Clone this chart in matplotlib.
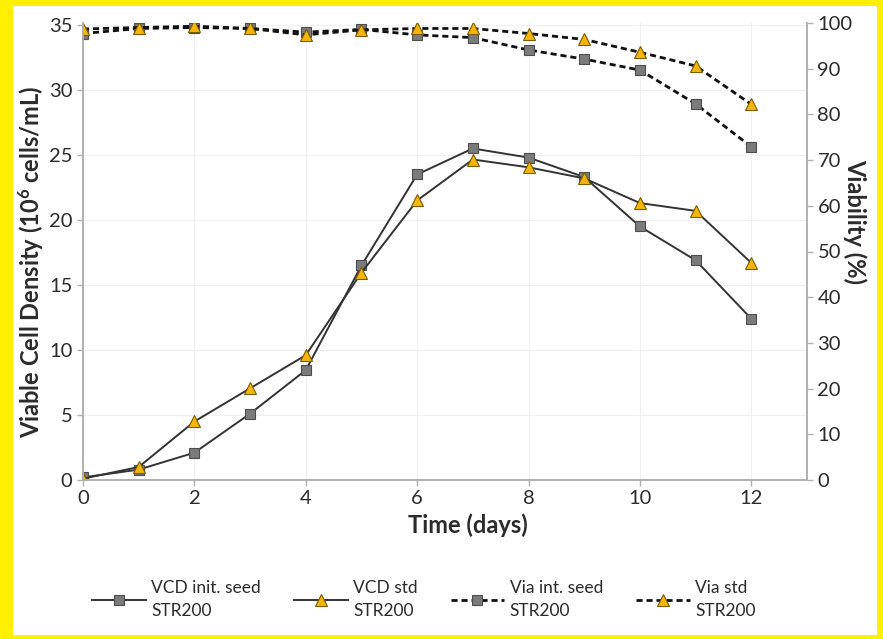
import matplotlib
matplotlib.use("Agg")
import matplotlib.pyplot as plt
from matplotlib.patches import Rectangle

# ---------------------------------------------------------------------
# Data
# ---------------------------------------------------------------------
days = [0, 1, 2, 3, 4, 5, 6, 7, 8, 9, 10, 11, 12]

vcd_init_seed = [0.2, 0.8, 2.1, 5.1, 8.45, 16.5, 23.5, 25.5, 24.8, 23.3, 19.5, 16.9, 12.4]
vcd_std = [0.1, 1.0, 4.5, 7.05, 9.6, 15.95, 21.5, 24.65, 24.05, 23.2, 21.3, 20.7, 16.7]

via_init_seed = [97.7, 98.8, 99.0, 98.8, 98.0, 98.6, 97.4, 96.8, 94.1, 92.1, 89.7, 82.3, 72.9]
via_std = [98.7, 99.0, 99.3, 98.8, 97.4, 98.5, 98.8, 98.8, 97.7, 96.4, 93.6, 90.6, 82.2]

labels = ["VCD init. seed\nSTR200", "VCD std\nSTR200",
          "Via int. seed\nSTR200", "Via std\nSTR200"]

# ---------------------------------------------------------------------
# Style
# ---------------------------------------------------------------------
plt.rcParams["font.family"] = ["Lato", "DejaVu Sans"]
plt.rcParams["mathtext.default"] = "regular"

TEXT = "#2b2b2b"
GREY_SQ = "#7b7b7b"
GOLD = "#F5B50A"
AXIS = "#b0b0b0"

fig = plt.figure(figsize=(8.83, 6.39), dpi=100)
fig.patch.set_facecolor("#FFEF00")
fig.patches.append(Rectangle((13 / 883, 4 / 639), (877 - 13) / 883, (633 - 4) / 639,
                             transform=fig.transFigure, facecolor="white",
                             edgecolor="none", zorder=-10))

ax = fig.add_axes([83 / 883, 1 - 480 / 639, (807 - 83) / 883, (480 - 23) / 639])
ax2 = ax.twinx()

sq = dict(marker="s", markersize=7.5, markerfacecolor=GREY_SQ,
          markeredgecolor="#4d4d4d", markeredgewidth=0.8)
tri = dict(marker="^", markersize=8, markerfacecolor=GOLD,
           markeredgecolor="#7a5c00", markeredgewidth=0.8)

l1, = ax.plot(days, vcd_init_seed, color="#333333", lw=1.4, **sq, label=labels[0])
l2, = ax.plot(days, vcd_std, color="#333333", lw=1.4, **tri, label=labels[1])
l3, = ax2.plot(days, via_init_seed, color="#111111", lw=2, linestyle=(0, (2.2, 1.4)),
               **sq, label=labels[2])
l4, = ax2.plot(days, via_std, color="#111111", lw=2, linestyle=(0, (2.2, 1.4)),
               **tri, label=labels[3])

ax.set_xlim(0, 13)
ax.set_ylim(0, 35.15)
ax2.set_ylim(0, 100)
ax.set_xticks([0, 2, 4, 6, 8, 10, 12])
ax.set_yticks([0, 5, 10, 15, 20, 25, 30, 35])
ax2.set_yticks(range(0, 101, 10))

ax.grid(True, color="#f0f0f0", lw=0.8)
ax.set_axisbelow(True)

for a in (ax, ax2):
    a.spines["top"].set_visible(False)
    for s in ("left", "right", "bottom"):
        a.spines[s].set_color(AXIS)
        a.spines[s].set_linewidth(1.2)
    a.tick_params(colors=AXIS, labelcolor=TEXT, labelsize=14.5, length=4, width=1)

ax.set_xlabel("Time (days)", fontsize=17, fontweight="bold", color=TEXT, va="center")
ax.xaxis.set_label_coords(0.532, -0.1)
ax.set_ylabel("Viable Cell Density (10$^6$ cells/mL)", fontsize=17,
              fontweight="bold", color=TEXT, va="center")
ax.yaxis.set_label_coords(-0.072, 0.477)
ax2.set_ylabel("Viability (%)", fontsize=17, fontweight="bold", color=TEXT,
               rotation=-90, va="center")
ax2.yaxis.set_label_coords(1.066, 0.565)

leg = fig.legend(handles=[l1, l2, l3, l4], loc="center", ncol=4,
                 bbox_to_anchor=(0.48, 0.062), frameon=False, fontsize=12.5,
                 labelcolor=TEXT, handlelength=3.1, handletextpad=0.3,
                 columnspacing=1.9)
for t in leg.get_texts():
    t.set_linespacing(1.5)

fig.savefig("out.png", dpi=100)
